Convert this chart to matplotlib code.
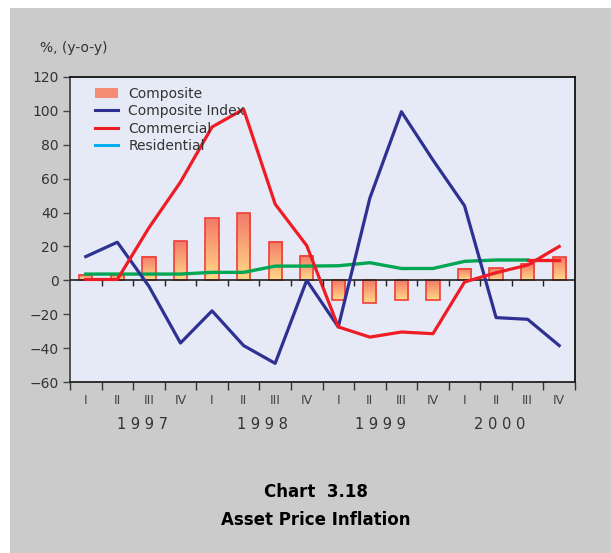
import numpy as np
import matplotlib.pyplot as plt
from matplotlib.patches import Rectangle, Patch
from matplotlib.lines import Line2D
from matplotlib.colors import LinearSegmentedColormap

quarters = ['I', 'II', 'III', 'IV'] * 4
years = ['1 9 9 7', '1 9 9 8', '1 9 9 9', '2 0 0 0']

composite = [3, 3, 14, 23, 36.5, 39.5, 22.5, 14.5, -11.5, -13.5, -11.5, -11.5, 6.5, 7, 9.5, 13.5]
composite_index = [14, 22.5, -3.5, -37, -18, -38.5, -49, 0, -27.5, 48.5, 99.5, 71, 44, -22, -23, -38.5]
commercial = [0.5, 0.5, 31, 58, 90.5, 101, 45, 20.5, -27.5, -33.5, -30.5, -31.5, -1, 4.5, 9, 20]
residential = [3.7, 3.7, 3.7, 3.7, 4.7, 4.7, 8.4, 8.4, 8.6, 10.4, 7, 7, 11.2, 12, 12, 12]

navy = '#2E3192'
red = '#EE1C25'
green = '#00A651'
cyan = '#00AEEF'
bar_top = '#F37A68'
bar_bottom = '#FFD987'
gray = '#CBCBCB'
txt = '#333333'

plt.rcParams['font.family'] = 'DejaVu Sans'
fig = plt.figure(figsize=(6.11, 5.53), dpi=100, facecolor='white')
fig.patches.append(Rectangle((10/611, 0), 1, 1 - 8/553, transform=fig.transFigure,
                             facecolor=gray, edgecolor='none', zorder=-10))

ax = fig.add_axes([70/611, 1 - 382/553, 505/611, 305/553])
ax.set_facecolor('#E6EAF6')
x = np.arange(len(composite))

# gradient bars
cmap = LinearSegmentedColormap.from_list('bar', [bar_bottom, bar_top])
grad = np.linspace(0, 1, 64).reshape(-1, 1)
w = 0.42
for xi, v in zip(x, composite):
    lo, hi = min(0, v), max(0, v)
    ax.imshow(grad, cmap=cmap, origin='lower', aspect='auto',
              extent=(xi - w/2, xi + w/2, lo, hi), zorder=2)
    ax.add_patch(Rectangle((xi - w/2, lo), w, hi - lo, facecolor='none',
                           edgecolor='#EF3E3A', linewidth=1.2, zorder=3))
ax.set_xlim(-0.5, len(composite) - 0.5)
ax.set_ylim(-60, 120)

ax.axhline(0, color='#222222', linewidth=1.2, zorder=4)
ax.plot(x[:-1], residential[:-1], color=green, linewidth=2.4, zorder=5)
ax.plot(x[-2:], residential[-2:], color=red, linewidth=2.4, zorder=5)
ax.plot(x, composite_index, color=navy, linewidth=2.3, zorder=6)
ax.plot(x, commercial, color=red, linewidth=2.3, zorder=7)

# zero-line ticks
ax0 = ax.twiny()
ax0.set_xlim(ax.get_xlim())
ax0.xaxis.set_ticks_position('bottom')
ax0.spines['bottom'].set_position(('axes', 60/180))
for s in ax0.spines.values():
    s.set_visible(False)
ax0.set_xticks(np.arange(-0.5, len(composite), 1)[1:-1])
ax0.tick_params(axis='x', length=4, width=1, color='#222222', labelbottom=False,
                labeltop=False, direction='out')

ax.set_yticks(np.arange(-60, 121, 20))
ax.set_yticklabels([f'{v}'.replace('-', '\u2212') for v in range(-60, 121, 20)])
ax.tick_params(axis='y', length=5, width=1, color='#444444', labelcolor=txt, labelsize=10, pad=3)
ax.set_xticks(np.arange(-0.5, len(composite) + 0.5, 1))
ax.set_xticklabels([])
ax.tick_params(axis='x', length=6, width=1, color='#333333')
for xi, q in zip(x, quarters):
    ax.text(xi, -0.06, q, transform=ax.get_xaxis_transform(), ha='center', va='center',
            fontsize=9, color='#444444')
for pos, yr in zip([1.8, 5.6, 9.35, 13.1], years):
    ax.text(pos, -0.14, yr, transform=ax.get_xaxis_transform(), ha='center', va='center',
            fontsize=10.5, color=txt)

ax.spines['left'].set_color('#444444')
ax.spines['bottom'].set_color('#222222')
ax.spines['top'].set_color('#111111')
ax.spines['right'].set_color('#111111')
for s in ax.spines.values():
    s.set_linewidth(1.3)

handles = [Patch(facecolor='#F58C76', edgecolor='none'),
           Line2D([], [], color=navy, linewidth=2.2),
           Line2D([], [], color=red, linewidth=2.2),
           Line2D([], [], color=cyan, linewidth=2.2)]
labels = ['Composite', 'Composite Index', 'Commercial', 'Residential']
leg = ax.legend(handles, labels, loc='upper left', bbox_to_anchor=(0.03, 1.0), frameon=False,
                fontsize=10, labelspacing=0.25, handlelength=1.7, handletextpad=0.7,
                borderaxespad=0.3, labelcolor=txt)
leg.set_zorder(10)

fig.text(40/611, 1 - 48/553, '%, (y-o-y)', fontsize=10, color=txt, ha='left', va='center')
fig.text(316/611, 1 - 492/553, 'Chart  3.18', fontsize=12, fontweight='bold', ha='center', va='center')
fig.text(316/611, 1 - 520/553, 'Asset Price Inflation', fontsize=12, fontweight='bold', ha='center', va='center')

fig.savefig('out.png', dpi=100, facecolor=fig.get_facecolor())
